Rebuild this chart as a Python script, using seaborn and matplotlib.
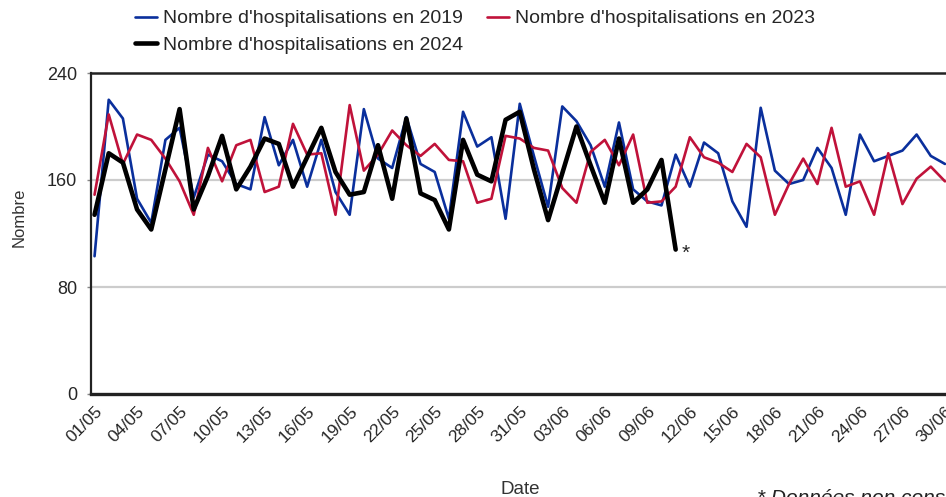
import matplotlib
matplotlib.use("Agg")
import matplotlib.pyplot as plt
import numpy as np
import pandas as pd
import seaborn as sns

# daily values, 01/05 -> 30/06
hosp_2019 = [103, 220, 206, 146, 128, 190, 199, 147, 179, 174,
             157, 153, 207, 171, 190, 155, 190, 151, 134, 213,
             176, 169, 207, 172, 166, 131, 211, 185, 192, 131,
             217, 178, 140, 215, 204, 186, 155, 203, 153, 144,
             141, 179, 155, 188, 180, 144, 125, 214, 167, 157,
             160, 184, 169, 134, 194, 174, 178, 182, 194, 178, 172]
hosp_2023 = [149, 209, 172, 194, 190, 176, 159, 134, 184, 159,
             186, 190, 151, 155, 202, 179, 180, 134, 216, 167,
             179, 197, 186, 178, 187, 175, 174, 143, 146, 193,
             191, 184, 182, 154, 143, 181, 190, 171, 194, 143,
             144, 155, 192, 177, 173, 166, 187, 177, 134, 157,
             176, 157, 199, 155, 159, 134, 180, 142, 161, 170, 159]
# 2024 stops on 11/06 (last value not consolidated)
hosp_2024 = [134, 180, 173, 138, 123, 168, 213, 138, 163, 193,
             153, 170, 191, 187, 155, 177, 199, 166, 149, 151,
             186, 146, 206, 150, 145, 123, 190, 164, 159, 205,
             211, 168, 130, 165, 200, 171, 143, 191, 143, 153,
             175, 108]

dates = pd.date_range("2024-05-01", "2024-06-30").strftime("%d/%m").tolist()
yticks = [0, 80, 160, 240]

sns.set_style("white")
plt.rcParams["font.family"] = ["Liberation Sans", "DejaVu Sans"]

fig = plt.figure(figsize=(9.46, 4.97), dpi=100)
ax = fig.add_axes([91 / 946, 103 / 497, 857.5 / 946, 321 / 497])

for y in yticks[1:3]:
    ax.axhline(y, color="#cccccc", lw=1.6, zorder=0)

x19 = np.arange(len(hosp_2019))
x24 = np.arange(len(hosp_2024))
sns.lineplot(x=x19, y=hosp_2019, ax=ax, color="#0a2f9c", lw=1.9)
sns.lineplot(x=x19, y=hosp_2023, ax=ax, color="#c0123a", lw=1.9)
sns.lineplot(x=x24, y=hosp_2024, ax=ax, color="black", lw=3.3)
lines = ax.get_lines()[-3:]

ax.annotate("*", (x24[-1], hosp_2024[-1]), xytext=(4, -3),
            textcoords="offset points", fontsize=15, va="center")

ax.set_xlim(-0.25, 60.25)
ax.set_ylim(0, 240)
ax.set_yticks(yticks)
ax.set_xticks(range(0, len(dates), 3))
ax.set_xticklabels(dates[::3], rotation=45, ha="right",
                   rotation_mode="anchor", fontsize=12.5)
ax.tick_params(axis="x", direction="inout", length=8, width=1, pad=3,
               color="#222222")
ax.tick_params(axis="y", direction="out", length=3, width=1, pad=7,
               labelsize=13, color="#888888", left=True)
for side in ["left", "top", "bottom"]:
    ax.spines[side].set_color("#222222")
ax.spines["bottom"].set_linewidth(2.4)
ax.spines["top"].set_linewidth(1.8)
ax.spines["left"].set_linewidth(1.6)
ax.spines["right"].set_visible(False)

ax.set_ylabel("Nombre", fontsize=12, color="#333333")
ax.yaxis.set_label_coords(-0.075, 0.55)
ax.set_xlabel("Date", fontsize=13.5, color="#333333")
ax.xaxis.set_label_coords(0.5, -0.27)

fig.legend([lines[0], lines[2], lines[1]],
           ["Nombre d'hospitalisations en 2019",
            "Nombre d'hospitalisations en 2024",
            "Nombre d'hospitalisations en 2023"],
           ncol=2, loc="upper center", bbox_to_anchor=(0.502, 1.0),
           borderaxespad=0.1, frameon=False, fontsize=14,
           handlelength=1.13, handletextpad=0.3,
           columnspacing=1.25, labelspacing=0.46)

fig.text(757 / 946, 8 / 497, "* Données non consolidées", fontsize=15,
         style="italic", va="top", color="#222222")

fig.savefig("out.png", dpi=100)
